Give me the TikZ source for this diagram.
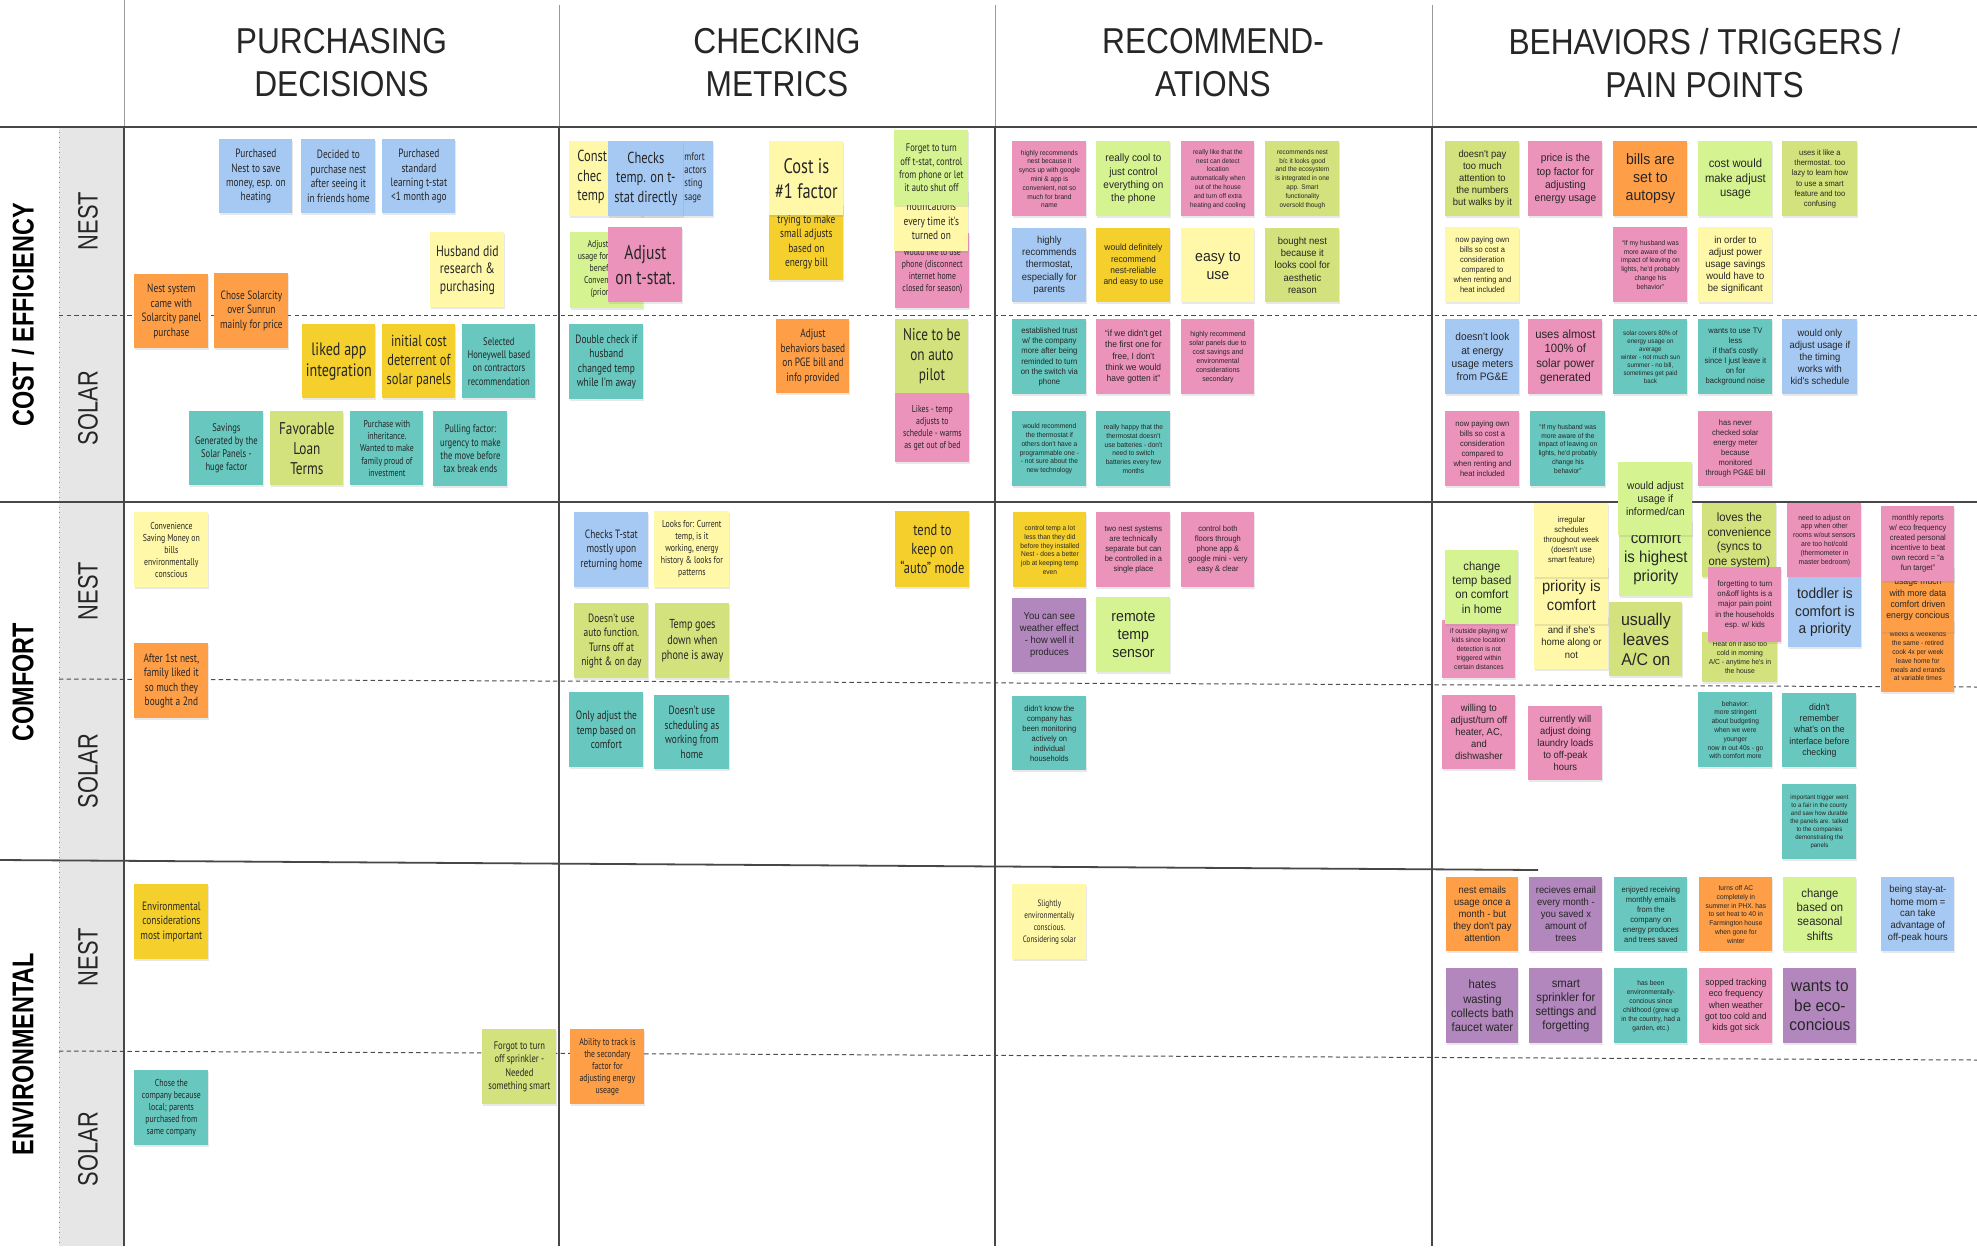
\documentclass[tikz,border=0pt]{standalone}
\usepackage{fontspec}
\setmainfont{Liberation Sans}
\newfontfamily\hwf[FakeStretch=0.78]{PT Sans}
\newfontfamily\arf[FakeStretch=0.94]{Liberation Sans}
\newfontfamily\hdf[FakeStretch=0.88]{Liberation Sans}
\newfontfamily\sbf[FakeStretch=0.78]{Liberation Sans}
\usetikzlibrary{shadows}
\definecolor{nblue}{HTML}{A6C9F3}
\definecolor{npink}{HTML}{EC93BC}
\definecolor{norange}{HTML}{FE9F48}
\definecolor{ngold}{HTML}{F5D02C}
\definecolor{nyellow}{HTML}{FFF8A8}
\definecolor{nlime}{HTML}{D5F491}
\definecolor{nolive}{HTML}{D3E27C}
\definecolor{nteal}{HTML}{68C8BF}
\definecolor{npurple}{HTML}{B287BE}
\definecolor{graycol}{HTML}{E6E6E6}
\tikzset{
 note/.style={inner sep=0pt, align=center, text=black!85,
   drop shadow={opacity=0.18, shadow xshift=0.4pt, shadow yshift=-0.6pt}},
 hw/.style 2 args={font=\hwf\fontsize{#1}{#2}\selectfont},
 ar/.style 2 args={font=\arf\fontsize{#1}{#2}\selectfont},
 cb/.style={fill=nblue}, cp/.style={fill=npink}, co/.style={fill=norange},
 cg/.style={fill=ngold}, cy/.style={fill=nyellow}, cl/.style={fill=nlime},
 cv/.style={fill=nolive}, ct/.style={fill=nteal}, cu/.style={fill=npurple},
 gridline/.style={draw=black!72, line width=0.7pt},
 hgrid/.style={draw=black!40, line width=0.5pt},
 subline/.style={draw=black!70, line width=0.5pt, dash pattern=on 2.2pt off 1.6pt},
 hdr/.style={font=\hdf\fontsize{18}{21.5}\selectfont, align=center, text=black!85},
 catl/.style={font=\sbf\bfseries\fontsize{15}{18}\selectfont, rotate=90, text=black},
 subl/.style={font=\sbf\fontsize{14}{16}\selectfont, rotate=90, text=black!85},
 frag/.style={text=black!85, inner sep=0pt}
}
\newcommand\nt[7]{\node[note,#6,minimum width={(#4-#2)*0.5pt},minimum height={(#5-#3)*0.5pt},anchor=north west] (#1) at (#2,#3) {#7};}
\begin{document}
\begin{tikzpicture}[x=0.5pt,y=-0.5pt]
\useasboundingbox (0,0) rectangle (1977,1254);
% grid
\fill[graycol] (59,127) rectangle (124,1246);
\draw[black!45, line width=0.5pt, dotted] (59,127) -- (59,1246);
\draw[hgrid] (124,0) -- (124,127);
\draw[gridline] (124,127) -- (124,1246);
\foreach \x in {559,995,1432} {
  \draw[hgrid] (\x,5) -- (\x,127);
  \draw[gridline] (\x,127) -- (\x,1246);
}
\draw[gridline, line width=0.9pt] (0,127) -- (1977,127);
\draw[gridline, line width=0.9pt] (0,502) -- (1977,502);
\draw[gridline, line width=0.9pt] (0,860) -- (1538,870);
\draw[subline] (59,315) -- (1977,315);
\draw[subline] (59,679) -- (1977,687);
\draw[subline] (59,1051) -- (1977,1060);
% headers
\node[hdr] (h1) at (341.5,63) {PURCHASING\\DECISIONS};
\node[hdr] (h2) at (777,63) {CHECKING\\METRICS};
\node[hdr] (h3) at (1213,63) {RECOMMEND-\\ATIONS};
\node[hdr] (h4) at (1704.5,63) {BEHAVIORS / TRIGGERS /\\PAIN POINTS};
\node[catl] (c1) at (23,315) {COST / EFFICIENCY};
\node[catl] (c2) at (23,682) {COMFORT};
\node[catl] (c3) at (23,1054) {ENVIRONMENTAL};
\node[subl] (s1) at (88,221) {NEST};
\node[subl] (s2) at (88,408) {SOLAR};
\node[subl] (s3) at (88,591) {NEST};
\node[subl] (s4) at (88,771) {SOLAR};
\node[subl] (s5) at (88,957) {NEST};
\node[subl] (s6) at (88,1149) {SOLAR};
% ---- column 1 cost
\nt{pa}{219}{139}{292}{213}{cb,hw={6}{7.2}}{Purchased\\Nest to save\\money, esp. on\\heating}
\nt{pb}{301}{139}{375}{213}{cb,hw={6}{7.2}}{Decided to\\purchase nest\\after seeing it\\in friends home}
\nt{pc}{382}{139}{455}{213}{cb,hw={6}{7.2}}{Purchased\\standard\\learning t-stat\\<1 month ago}
\nt{pd}{430}{232}{504}{307}{cy,hw={7.5}{8.8}}{Husband did\\research \&\\purchasing}
\nt{pe}{134}{274}{208}{348}{co,hw={6}{7.2}}{Nest system\\came with\\Solarcity panel\\purchase}
\nt{pf}{214}{273}{288}{348}{co,hw={6}{7.2}}{Chose Solarcity\\over Sunrun\\mainly for price}
\nt{pg}{302}{324}{375}{398}{cg,hw={9}{10.4}}{liked app\\integration}
\nt{ph}{382}{324}{455}{398}{cg,hw={8}{9.5}}{initial cost\\deterrent of\\solar panels}
\nt{pi}{462}{324}{535}{398}{ct,hw={5.5}{6.7}}{Selected\\Honeywell based\\on contractors\\recommendation}
\nt{pj}{189}{411}{263}{485}{ct,hw={5.5}{6.6}}{Savings\\Generated by the\\Solar Panels -\\huge factor}
\nt{pk}{270}{411}{343}{485}{cv,hw={8.5}{10}}{Favorable\\Loan\\Terms}
\nt{pl}{350}{411}{423}{485}{ct,hw={5}{6.1}}{Purchase with\\inheritance.\\Wanted to make\\family proud of\\investment}
\nt{pm}{433}{411}{507}{486}{ct,hw={5.5}{6.6}}{Pulling factor:\\urgency to make\\the move before\\tax break ends}
% ---- column 2 cost
\nt{qa}{569}{141}{643}{216}{cy}{}
\node[frag,hw={8}{9.7},align=left,anchor=west] (qat) at (577,177) {Const\\chec\\temp};
\nt{qb}{640}{141}{713}{216}{cb}{}
\node[frag,hw={5.5}{6.7},align=left,anchor=west] (qbt) at (684,177.5) {mfort\\actors\\sting\\sage};
\nt{qc}{608}{141}{683}{216}{cb,hw={8}{9.7}}{Checks\\temp. on t-\\stat directly}
\nt{qd}{570}{232}{643}{308}{cl}{}
\node[frag,hw={5}{6.1},align=right,anchor=east] (qdt) at (609,269) {Adjust\\usage for\\benef\\Conven\\(prior};
\nt{qe}{608}{227}{682}{302}{cp,hw={10}{12.5}}{Adjust\\on t-stat.}
\nt{qf}{769}{203}{843}{280}{cg,hw={6}{7.2}}{trying to make\\small adjusts\\based on\\energy bill}
\nt{qg}{769}{141}{843}{215}{cy,hw={10.5}{12.5}}{Cost is\\\#1 factor}
\nt{qh}{895}{233}{969}{308}{cp,hw={5}{6}}{would like to use\\phone (disconnect\\internet home\\closed for season)}
\nt{qi}{894}{190}{968}{251}{cy,hw={6}{7.3}}{notifications\\every time it's\\turned on}
\nt{qj}{894}{130}{968}{205}{cl,hw={5.5}{6.6}}{Forget to turn\\off t-stat, control\\from phone or let\\it auto shut off}
\nt{qk}{569}{324}{643}{399}{ct,hw={6}{7.3}}{Double check if\\husband\\changed temp\\while I'm away}
\nt{ql}{776}{319}{849}{393}{co,hw={6}{7.2}}{Adjust\\behaviors based\\on PGE bill and\\info provided}
\nt{qm}{895}{319}{968}{393}{cv,hw={8.5}{10}}{Nice to be\\on auto\\pilot}
\nt{qn}{895}{393}{969}{462}{cp,hw={5}{6}}{Likes - temp\\adjusts to\\schedule - warms\\as get out of bed}
% ---- column 3 cost
\nt{ra}{1012}{141}{1086}{216}{cp,ar={3.5}{4.4}}{highly recommends\\nest because it\\syncs up with google\\mini \& app is\\convenient, not so\\much for brand\\name}
\nt{rb}{1096}{141}{1170}{216}{cl,ar={5.3}{6.6}}{really cool to\\just control\\everything on\\the phone}
\nt{rc}{1181}{141}{1254}{216}{cp,ar={3.4}{4.4}}{really like that the\\nest can detect\\location\\automatically when\\out of the house\\and turn off extra\\heating and cooling}
\nt{rd}{1265}{141}{1339}{216}{cv,ar={3.4}{4.4}}{recommends nest\\b/c it looks good\\and the ecosystem\\is integrated in one\\app. Smart\\functionality\\oversold though}
\nt{re}{1012}{228}{1086}{302}{cb,ar={5}{6.1}}{highly\\recommends\\thermostat,\\especially for\\parents}
\nt{rf}{1096}{228}{1170}{302}{cg,ar={4.5}{5.65}}{would definitely\\recommend\\nest-reliable\\and easy to use}
\nt{rg}{1181}{228}{1254}{302}{cy,ar={7.5}{8.85}}{easy to\\use}
\nt{rh}{1265}{228}{1339}{302}{cv,ar={5}{6.1}}{bought nest\\because it\\looks cool for\\aesthetic\\reason}
\nt{ri}{1012}{319}{1086}{394}{ct,ar={4.1}{5.05}}{established trust\\w/ the company\\more after being\\reminded to turn\\on the switch via\\phone}
\nt{rj}{1096}{319}{1170}{394}{cp,ar={4.5}{5.65}}{“if we didn't get\\the first one for\\free, I don't\\think we would\\have gotten it”}
\nt{rk}{1181}{319}{1254}{394}{cp,ar={3.6}{4.45}}{highly recommend\\solar panels due to\\cost savings and\\environmental\\considerations\\secondary}
\nt{rl}{1012}{411}{1086}{486}{ct,ar={3.5}{4.4}}{would recommend\\the thermostat if\\others don't have a\\programmable one -\\- not sure about the\\new technology}
\nt{rm}{1096}{411}{1170}{486}{ct,ar={3.5}{4.4}}{really happy that the\\thermostat doesn't\\use batteries - don't\\need to switch\\batteries every few\\months}
% ---- column 4 cost
\nt{sa}{1445}{141}{1519}{216}{cv,ar={5}{6.1}}{doesn't pay\\too much\\attention to\\the numbers\\but walks by it}
\nt{sb}{1528}{141}{1602}{216}{cp,ar={5.4}{6.65}}{price is the\\top factor for\\adjusting\\energy usage}
\nt{sc}{1613}{141}{1687}{216}{co,ar={7.5}{9}}{bills are\\set to\\autopsy}
\nt{sd}{1698}{141}{1772}{216}{cl,ar={6}{7.25}}{cost would\\make adjust\\usage}
\nt{se}{1782}{141}{1857}{216}{cv,ar={4}{5.05}}{uses it like a\\thermostat. too\\lazy to learn how\\to use a smart\\feature and too\\confusing}
\nt{sf}{1445}{227}{1519}{302}{cy,ar={4}{5}}{now paying own\\bills so cost a\\consideration\\compared to\\when renting and\\heat included}
\nt{sg}{1613}{227}{1687}{302}{cp,ar={3.5}{4.45}}{“If my husband was\\more aware of the\\impact of leaving on\\lights, he'd probably\\change his\\behavior”}
\nt{sh}{1698}{227}{1772}{302}{cy,ar={5}{6.1}}{in order to\\adjust power\\usage savings\\would have to\\be significant}
\nt{si}{1445}{319}{1519}{394}{cb,ar={5.4}{6.65}}{doesn't look\\at energy\\usage meters\\from PG\&E}
\nt{sj}{1528}{319}{1602}{394}{cp,ar={6}{7.2}}{uses almost\\100\% of\\solar power\\generated}
\nt{sk}{1613}{319}{1687}{394}{ct,ar={3.3}{4}}{solar covers 80\% of\\energy usage on\\average\\winter - not much sun\\summer - no bill,\\sometimes get paid\\back}
\nt{sl}{1698}{319}{1772}{394}{ct,ar={4}{5}}{wants to use TV\\less\\if that's costly\\since I just leave it\\on for\\background noise}
\nt{sm}{1782}{319}{1857}{394}{cb,ar={5}{6.1}}{would only\\adjust usage if\\the timing\\works with\\kid's schedule}
\nt{sn}{1445}{411}{1519}{486}{cp,ar={4}{5}}{now paying own\\bills so cost a\\consideration\\compared to\\when renting and\\heat included}
\nt{so}{1530}{411}{1605}{486}{ct,ar={3.5}{4.45}}{“If my husband was\\more aware of the\\impact of leaving on\\lights, he'd probably\\change his\\behavior”}
\nt{sp}{1698}{411}{1772}{486}{cp,ar={4}{5}}{has never\\checked solar\\energy meter\\because\\monitored\\through PG\&E bill}
% ---- comfort column 1
\nt{ta}{134}{512}{208}{587}{cy,hw={5}{6}}{Convenience\\Saving Money on\\bills\\environmentally\\conscious}
\nt{tb}{134}{643}{208}{718}{co,hw={6}{7.3}}{After 1st nest,\\family liked it\\so much they\\bought a 2nd}
% ---- comfort column 2
\nt{ua}{574}{512}{648}{587}{cb,hw={6}{7.25}}{Checks T-stat\\mostly upon\\returning home}
\nt{ub}{654}{511}{729}{587}{cy,hw={5}{6}}{Looks for: Current\\temp, is it\\working, energy\\history \& looks for\\patterns}
\nt{uc}{895}{511}{969}{587}{cg,hw={8}{9.5}}{tend to\\keep on\\“auto” mode}
\nt{ud}{574}{603}{648}{678}{cv,hw={6}{7.2}}{Doesn't use\\auto function.\\Turns off at\\night \& on day}
\nt{ue}{655}{603}{729}{678}{cv,hw={6.5}{7.8}}{Temp goes\\down when\\phone is away}
\nt{uf}{569}{692}{643}{767}{ct,hw={6}{7.25}}{Only adjust the\\temp based on\\comfort}
\nt{ug}{654}{695}{729}{769}{ct,hw={6}{7.2}}{Doesn't use\\scheduling as\\working from\\home}
% ---- comfort column 3
\nt{va}{1013}{512}{1086}{587}{cg,ar={3.5}{4.4}}{control temp a lot\\less than they did\\before they installed\\Nest - does a better\\job at keeping temp\\even}
\nt{vb}{1096}{512}{1170}{587}{cp,ar={4}{5}}{two nest systems\\are technically\\separate but can\\be controlled in a\\single place}
\nt{vc}{1181}{512}{1254}{587}{cp,ar={4}{5}}{control both\\floors through\\phone app \&\\google mini - very\\easy \& clear}
\nt{vd}{1012}{598}{1086}{672}{cu,ar={5}{6.05}}{You can see\\weather effect\\- how well it\\produces}
\nt{ve}{1096}{597}{1170}{672}{cl,ar={7.5}{8.85}}{remote\\temp\\sensor}
\nt{vf}{1012}{696}{1086}{770}{ct,ar={4}{5}}{didn't know the\\company has\\been monitoring\\actively on\\individual\\households}
% ---- comfort column 4
\nt{wa}{1619}{520}{1692}{596}{cl,ar={8}{9.6}}{comfort\\is highest\\priority}
\nt{wb}{1618}{462}{1692}{535}{cl,ar={5.4}{6.4}}{would adjust\\usage if\\informed/can}
\nt{wc}{1442}{620}{1515}{678}{cp,ar={3.5}{4.5}}{if outside playing w/\\kids since location\\detection is not\\triggered within\\certain distances}
\nt{wd}{1445}{550}{1518}{624}{cl,ar={6}{7.2}}{change\\temp based\\on comfort\\in home}
\nt{we}{1534}{615}{1608}{669}{cy,ar={5}{6.1}}{and if she's\\home along or\\not}
\nt{wf}{1534}{566}{1608}{624}{cy,ar={7.8}{9.2}}{priority is\\comfort}
\nt{wg}{1534}{503}{1608}{577}{cy,ar={4}{5}}{irregular\\schedules\\throughout week\\(doesn't use\\smart feature)}
\nt{wh}{1609}{602}{1682}{676}{cv,ar={8.5}{10}}{usually\\leaves\\A/C on}
\nt{wi}{1702}{632}{1777}{682}{cv,ar={3.6}{4.45}}{Heat on if also too\\cold in morning\\A/C - anytime he's in\\the house}
\nt{wk}{1702}{503}{1776}{577}{cv,ar={6}{7.35}}{loves the\\convenience\\(syncs to\\one system)}
\nt{wj}{1708}{567}{1781}{642}{cp,ar={4}{5.05}}{forgetting to turn\\on\&off lights is a\\major pain point\\in the households\\esp. w/ kids}
\nt{wl}{1787}{503}{1861}{577}{cp,ar={3.6}{4.45}}{need to adjust on\\app when other\\rooms w/out sensors\\are too hot/cold\\(thermometer in\\master bedroom)}
\nt{wm}{1788}{577}{1861}{647}{cb,ar={7.3}{8.75}}{toddler is\\comfort is\\a priority}
\nt{wn}{1881}{620}{1954}{692}{co,ar={3.5}{4.4}}{weeks \& weekends\\the same - retired\\cook 4x per week\\leave home for\\meals and errands\\at variable times}
\nt{wo}{1881}{566}{1954}{632}{co,ar={4.6}{5.65}}{usage much\\with more data\\comfort driven\\energy concious}
\nt{wp}{1881}{506}{1954}{581}{cp,ar={4}{5}}{monthly reports\\w/ eco frequency\\created personal\\incentive to beat\\own record = “a\\fun target”}
% ---- comfort solar column 4
\nt{xa}{1442}{695}{1515}{769}{cp,ar={5}{6}}{willing to\\adjust/turn off\\heater, AC,\\and\\dishwasher}
\nt{xb}{1528}{706}{1602}{780}{cp,ar={5}{6}}{currently will\\adjust doing\\laundry loads\\to off-peak\\hours}
\nt{xc}{1698}{692}{1772}{767}{ct,ar={3.5}{4.4}}{behavior:\\more stringent\\about budgeting\\when we were\\younger\\now in out 40s - go\\with comfort more}
\nt{xd}{1782}{693}{1856}{767}{ct,ar={4.6}{5.65}}{didn't\\remember\\what's on the\\interface before\\checking}
\nt{xe}{1782}{784}{1856}{859}{ct,ar={3.2}{4}}{important trigger went\\to a fair in the county\\and saw how durable\\the panels are. talked\\to the companies\\demonstrating the\\panels}
% ---- environmental
\nt{ya}{134}{884}{208}{959}{cg,hw={6}{7.3}}{Environmental\\considerations\\most important}
\nt{yb}{134}{1070}{208}{1145}{ct,hw={5}{6}}{Chose the\\company because\\local; parents\\purchased from\\same company}
\nt{yc}{482}{1029}{556}{1104}{cv,hw={5.5}{6.65}}{Forgot to turn\\off sprinkler -\\Needed\\something smart}
\nt{yd}{570}{1029}{644}{1104}{co,hw={5}{6}}{Ability to track is\\the secondary\\factor for\\adjusting energy\\useage}
\nt{ye}{1012}{884}{1086}{959}{cy,hw={4.6}{6}}{Slightly\\environmentally\\conscious.\\Considering solar}
\nt{za}{1446}{877}{1518}{951}{co,ar={5}{6}}{nest emails\\usage once a\\month - but\\they don't pay\\attention}
\nt{zb}{1529}{877}{1602}{951}{cu,ar={5}{6}}{recieves email\\every month -\\you saved x\\amount of\\trees}
\nt{zc}{1614}{877}{1687}{951}{ct,ar={4}{5}}{enjoyed receiving\\monthly emails\\from the\\company on\\energy produces\\and trees saved}
\nt{zd}{1699}{877}{1772}{951}{co,ar={3.5}{4.45}}{turns off AC\\completely in\\summer in PHX. has\\to set heat to 40 in\\Farmington house\\when gone for\\winter}
\nt{ze}{1783}{877}{1856}{951}{cl,ar={6}{7.15}}{change\\based on\\seasonal\\shifts}
\nt{zf}{1881}{877}{1954}{951}{cb,ar={5}{6}}{being stay-at-\\home mom =\\can take\\advantage of\\off-peak hours}
\nt{zg}{1446}{968}{1518}{1043}{cu,ar={6}{7.15}}{hates\\wasting\\collects bath\\faucet water}
\nt{zh}{1529}{968}{1602}{1043}{cu,ar={6}{7.15}}{smart\\sprinkler for\\settings and\\forgetting}
\nt{zi}{1614}{968}{1687}{1043}{ct,ar={3.5}{4.5}}{has been\\environmentally-\\concious since\\childhood (grew up\\in the country, had a\\garden, etc.)}
\nt{zj}{1699}{968}{1772}{1043}{cp,ar={4.6}{5.65}}{sopped tracking\\eco frequency\\when weather\\got too cold and\\kids got sick}
\nt{zk}{1783}{968}{1856}{1043}{cu,ar={8.2}{9.8}}{wants to\\be eco-\\concious}
\end{tikzpicture}
\end{document}
